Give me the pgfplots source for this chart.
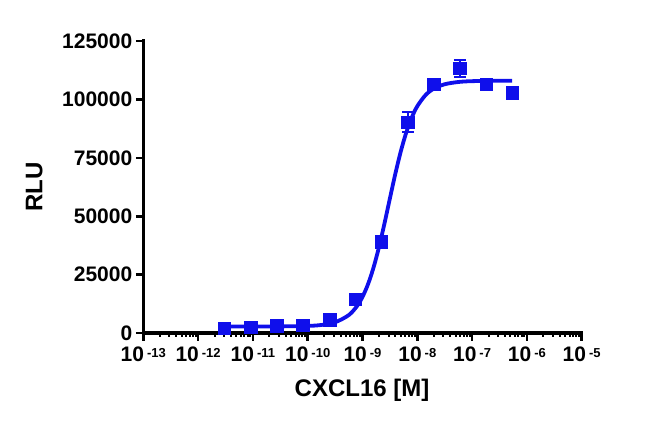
\documentclass[border=0pt]{standalone}
\usepackage{fontspec}
\setmainfont{Liberation Sans}
\usepackage{pgfplots}
\pgfplotsset{compat=1.18}
\definecolor{curveblue}{RGB}{15,15,235}

\newcommand{\pw}[1]{10\hspace{3pt}\raisebox{4.5pt}{\fontsize{13}{13}\selectfont\bfseries #1}}

\begin{document}
\begin{tikzpicture}
\begin{axis}[
  scale only axis,
  width=438.4pt, height=292pt,
  xmode=log,
  xmin=1e-13, xmax=1e-5,
  ymin=0, ymax=125000,
  axis lines*=left,
  axis line style={line width=3.4pt, line cap=rect},
  tick align=outside,
  major tick length=7.5pt,
  minor tick length=3.5pt,
  every tick/.style={black, line width=2.6pt},
  minor tick style={line width=2pt},
  xtick={1e-13,1e-12,1e-11,1e-10,1e-9,1e-8,1e-7,1e-6,1e-5},
  xticklabels={\pw{-13},\pw{-12},\pw{-11},\pw{-10},\pw{-9},\pw{-8},\pw{-7},\pw{-6},\pw{-5}},
  ytick={0,25000,50000,75000,100000,125000},
  yticklabels={0,25000,50000,75000,100000,125000},
  scaled y ticks=false,
  tick label style={font=\fontsize{21}{21}\selectfont\bfseries},
  xticklabel style={yshift=-3pt},
  yticklabel style={xshift=0pt},
  xlabel={CXCL16 [M]},
  ylabel={RLU},
  label style={font=\fontsize{24}{24}\selectfont\bfseries},
  xlabel style={at={(axis description cs:0.499,-0.195)}, anchor=center},
  ylabel style={at={(axis description cs:-0.249,0.5)}, anchor=center},
  clip=false,
]
% fitted curve
\addplot[curveblue, line width=3.8pt, no markers, smooth] table {
x y
3.02e-12 2800
1e-11 2801
3.162e-11 2829
1e-10 3028
1.778e-10 3439
3.162e-10 4581
5.623e-10 7670
7.943e-10 11516
1e-9 15459
1.259e-9 20844
1.585e-9 27907
1.995e-9 36637
2.512e-9 46762
3.162e-9 57592
3.981e-9 68223
5.012e-9 77836
6.310e-9 85938
7.943e-9 92303
1e-8 97074
1.413e-8 101840
1.995e-8 104600
3.162e-8 106487
5.623e-8 107458
1e-7 107807
3.162e-7 107980
5.37e-7 108000
};
% measured points
\addplot[curveblue, only marks, mark=square*, mark size=6.3pt,
  mark options={fill=curveblue, draw=curveblue},
  error bars/.cd, y dir=both, y explicit,
  error bar style={line width=2.2pt, curveblue},
  error mark options={rotate=90, mark size=6pt, line width=2.2pt, curveblue}]
coordinates {
  (3.0e-12,2100) +- (0,300)
  (9.1e-12,2500) +- (0,300)
  (2.7e-11,3000) +- (0,300)
  (8.2e-11,3400) +- (0,300)
  (2.5e-10,5600) +- (0,500)
  (7.4e-10,14500) +- (0,800)
  (2.2e-9,39000) +- (0,2000)
  (6.7e-9,90300) +- (0,4300)
  (2.0e-8,106500) +- (0,2200)
  (6.0e-8,113300) +- (0,3600)
  (1.8e-7,106500) +- (0,1800)
  (5.4e-7,102900) +- (0,600)
};
\end{axis}
\path (-143.3pt,-93pt) rectangle (506.7pt,333pt);
\end{tikzpicture}
\end{document}
